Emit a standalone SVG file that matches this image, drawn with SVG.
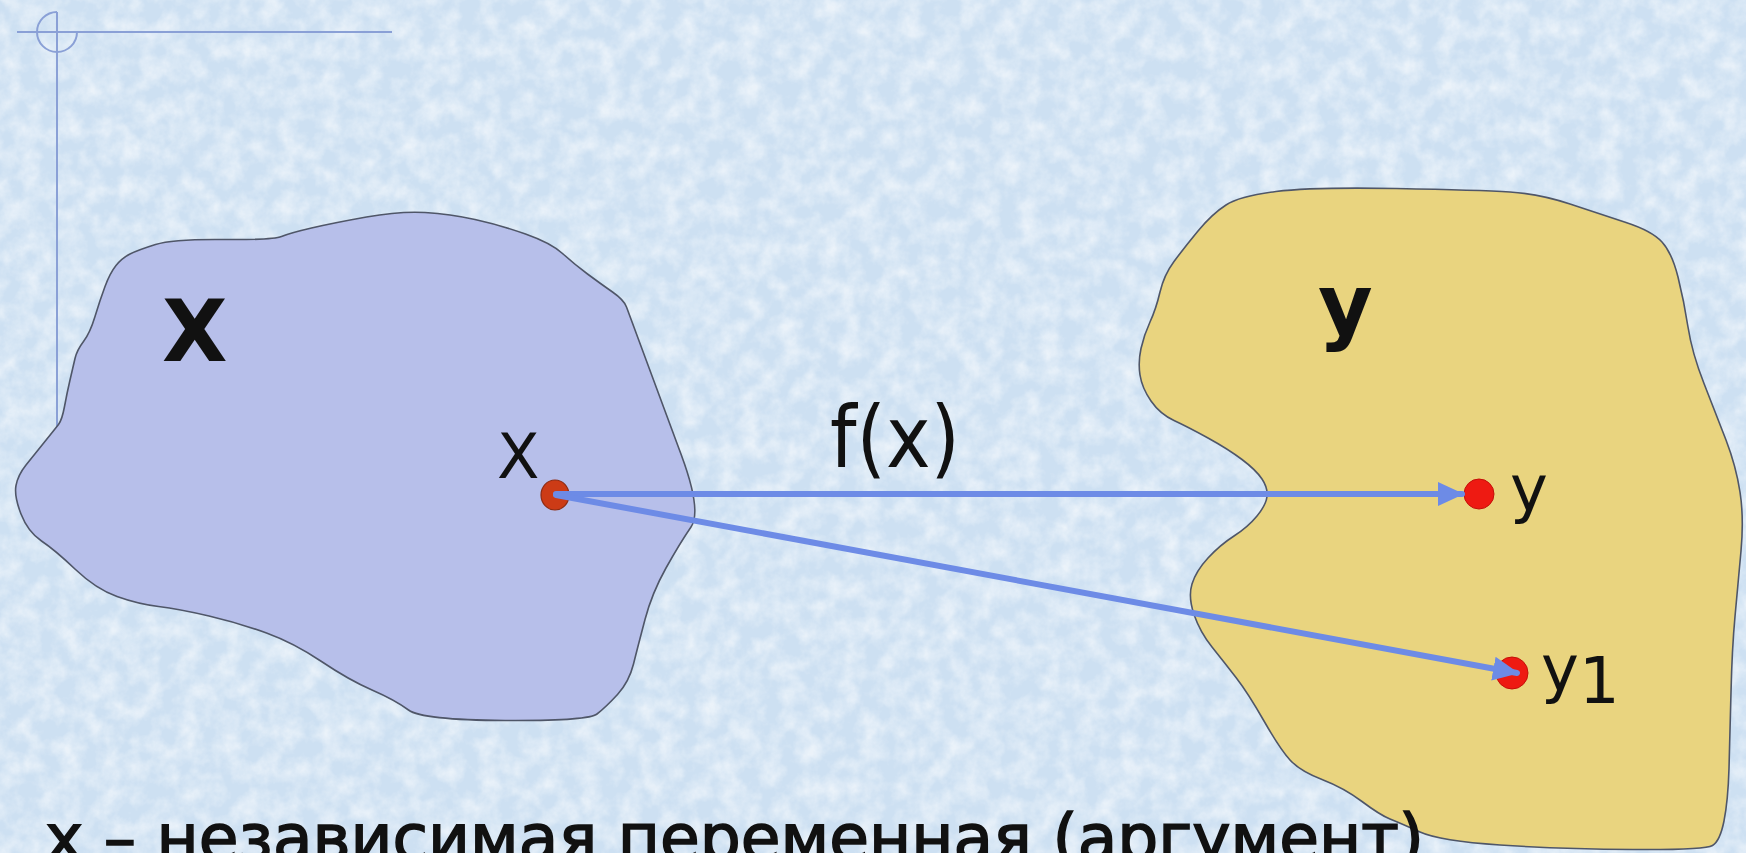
<svg xmlns="http://www.w3.org/2000/svg" width="1746" height="853" viewBox="0 0 1746 853">
<style>
.blob{stroke:#4f5668;stroke-width:1.6;stroke-linejoin:round}
.deco{fill:none;stroke:#8aa0d6;stroke-width:2}
.lbl{font-family:"DejaVu Sans","Liberation Sans",sans-serif;fill:#111}
.big{font-family:"DejaVu Sans","Liberation Sans",sans-serif;font-weight:bold;fill:#111}
.arrow{stroke:#6d8be6;stroke-width:6;fill:none;stroke-linecap:round}
.ydot{fill:#ee1a12;stroke:#c41008;stroke-width:1}
</style>
<defs>
<filter id="tex" x="0" y="0" width="100%" height="100%">
<feTurbulence type="fractalNoise" baseFrequency="0.05" numOctaves="4" seed="7"/>
<feColorMatrix type="matrix" values="0 0 0 0 1  0 0 0 0 1  0 0 0 0 1  0 0 0 1.8 -0.6"/>
</filter>
<marker id="ah" markerUnits="userSpaceOnUse" markerWidth="26" markerHeight="26" viewBox="0 0 26 26" refX="24" refY="13" orient="auto">
<path d="M0,1 L26,13 L0,25 Z" fill="#6d8be6"/>
</marker>
</defs>
<rect width="1746" height="853" fill="#cde0f2"/>
<rect width="1746" height="853" filter="url(#tex)" opacity="0.6"/>
<g id="decoration">
<line class="deco" x1="17" y1="32" x2="392" y2="32"/>
<line class="deco" x1="57" y1="12" x2="57" y2="490"/>
<path class="deco" d="M57,12 A20,20 0 1 0 77,32"/>
</g>
<g id="set-X">
<path class="blob" fill="#b7bfea" d="M105,286.5 Q110,273 116,265.5 Q122,258 130,254 Q138,250 155.5,244.5 Q173,239 223,239.5 Q273,240 281.5,236.5 Q290,233 311.5,228 Q333,223 366.5,217 Q400,211 425,212.5 Q450,214 475,219.5 Q500,225 525.5,234 Q551,243 562.5,253.5 Q574,264 587.5,274 Q601,284 612.5,292 Q624,300 626.5,307 Q629,314 645,357 Q661,400 681.5,455.5 Q702,511 691,527 Q680,543 666,568 Q652,593 645,619.5 Q638,646 633.5,664 Q629,682 617.5,694.5 Q606,707 597,714 Q588,721 505,720.5 Q422,720 408.5,710 Q395,700 372,690 Q349,680 321.5,661.5 Q294,643 266.5,633 Q239,623 209,616 Q179,609 158.5,606.5 Q138,604 117,596.5 Q96,589 75.5,569.5 Q55,550 41.5,541 Q28,532 21,514 Q14,496 16,485.5 Q18,475 26,465 Q34,455 44.5,442 Q55,429 58.5,424.5 Q62,420 64.5,406.5 Q67,393 70,380 Q73,367 75,358.5 Q77,350 83.5,341.5 Q90,333 95,316.5 Q100,300 105,286.5 Z"/>
<text class="big" x="162" y="361" font-size="85">X</text>
</g>
<g id="set-Y">
<path class="blob" fill="#e9d47f" d="M1198,231 Q1212,214 1226,205 Q1240,196 1276,191.5 Q1312,187 1396,188.5 Q1480,190 1510,192 Q1540,194 1570,204 Q1600,214 1626,222.5 Q1652,231 1662,242 Q1672,253 1678,277 Q1684,301 1688,327 Q1692,353 1704,383.5 Q1716,414 1726,440 Q1736,466 1740,492 Q1744,518 1741,551 Q1738,584 1735,616.5 Q1732,649 1731,692.5 Q1730,736 1729,768.5 Q1728,801 1724,821 Q1720,841 1712.5,845.5 Q1705,850 1632.5,849.5 Q1560,849 1500,845 Q1440,841 1420,832 Q1400,823 1390,819 Q1380,815 1362,801.5 Q1344,788 1322,779.5 Q1300,771 1290,760 Q1280,749 1264,721 Q1248,693 1236,677.5 Q1224,662 1212,647 Q1200,632 1194,614.5 Q1188,597 1192,584 Q1196,571 1208,558 Q1220,545 1234,536 Q1248,527 1257,516 Q1266,505 1267,496.5 Q1268,488 1262,479 Q1256,470 1242,459.5 Q1228,449 1208,438 Q1188,427 1174,420.5 Q1160,414 1151,401 Q1142,388 1140,375 Q1138,362 1141,348.5 Q1144,335 1150,322 Q1156,309 1160,292 Q1164,275 1174,261.5 Q1184,248 1198,231 Z"/>
<text class="big" x="1318" y="334" font-size="84">y</text>
</g>
<g id="node-x">
<ellipse cx="555" cy="495" rx="14" ry="15" fill="#cc3b16" stroke="#8e2a10" stroke-width="1.2"/>
<text class="lbl" x="497" y="478" font-size="62">X</text>
</g>
<g id="node-y">
<circle class="ydot" cx="1479" cy="494" r="15"/>
<text class="lbl" x="1510" y="511" font-size="64">y</text>
</g>
<g id="node-y1">
<circle class="ydot" cx="1512" cy="673" r="16"/>
<text class="lbl" x="1541" y="691" font-size="64">y<tspan dy="12">1</tspan></text>
</g>
<g id="connectors">
<line class="arrow" x1="556" y1="494" x2="1462" y2="494" marker-end="url(#ah)"/>
<line class="arrow" x1="556" y1="495" x2="1517" y2="673" marker-end="url(#ah)"/>
<text class="lbl" x="830" y="467" font-size="86" textLength="130" lengthAdjust="spacingAndGlyphs">f(x)</text>
</g>
<g id="caption">
<text class="lbl" x="45" y="860" font-size="64" stroke="#111" stroke-width="1.6" textLength="1379" lengthAdjust="spacingAndGlyphs">x – независимая переменная (аргумент)</text>
</g>
</svg>
